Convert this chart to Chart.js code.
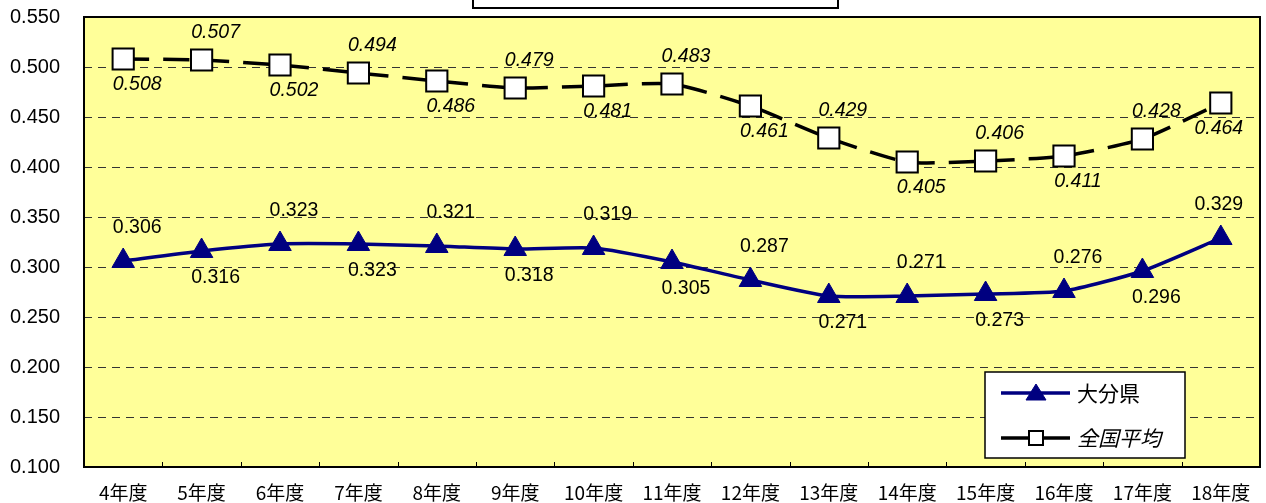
<!DOCTYPE html>
<html>
<head>
<meta charset="utf-8">
<script src="https://cdn.jsdelivr.net/npm/chart.js@4/dist/chart.umd.min.js"></script>
<style>
  html, body { margin: 0; padding: 0; background: #ffffff; }
  #wrap { width: 1266px; height: 503px; position: relative; }
</style>
</head>
<body>
<div id="wrap"><canvas id="c" width="1266" height="503"></canvas></div>
<script>
// 年度別の推移
const categories = ['4年度','5年度','6年度','7年度','8年度','9年度','10年度','11年度','12年度','13年度','14年度','15年度','16年度','17年度','18年度'];
const oitaValues = [0.306,0.316,0.323,0.323,0.321,0.318,0.319,0.305,0.287,0.271,0.271,0.273,0.276,0.296,0.329];
const nationalValues = [0.508,0.507,0.502,0.494,0.486,0.479,0.481,0.483,0.461,0.429,0.405,0.406,0.411,0.428,0.464];
const seriesNames = ['大分県','全国平均'];
const yTicks = [0.100,0.150,0.200,0.250,0.300,0.350,0.400,0.450,0.500,0.550];

const NUM_FONT = '"Liberation Sans", Arial, sans-serif';
const JP_FONT = '"Noto Sans CJK JP", sans-serif';

// value labels beside each point, alternating above / below
const valueLabels = {
  id: 'valueLabels',
  afterDatasetsDraw(chart) {
    const ctx = chart.ctx;
    ctx.save();
    ctx.fillStyle = '#000';
    ctx.textAlign = 'center';
    ctx.textBaseline = 'middle';
    chart.data.datasets.forEach((ds, di) => {
      const meta = chart.getDatasetMeta(di);
      ctx.font = (ds.labelItalic ? 'italic ' : '') + '19.5px ' + NUM_FONT;
      const last = meta.data.length - 1;
      meta.data.forEach((pt, i) => {
        const above = (i % 2 === 0) === ds.firstAbove;
        const dy = above ? ds.labelUp : ds.labelDown;
        const dx = i === last ? -2 : 14;
        ctx.fillText(ds.data[i].toFixed(3), pt.x + dx, pt.y + dy);
      });
    });
    ctx.restore();
  }
};

// frame, inner tick marks, title box and legend box
const decor = {
  id: 'decor',
  beforeDraw(chart) {
    const { ctx, chartArea: a } = chart;
    ctx.save();
    ctx.fillStyle = '#FFFF99';
    ctx.fillRect(a.left, a.top, a.right - a.left, a.bottom - a.top);
    ctx.restore();
  },
  afterDraw(chart) {
    const { ctx, chartArea: a } = chart;
    const xs = chart.scales.x;
    ctx.save();
    // plot frame
    ctx.strokeStyle = '#000';
    ctx.lineWidth = 2;
    ctx.strokeRect(a.left, a.top, a.right - a.left, a.bottom - a.top);
    // category boundary ticks along the bottom
    ctx.lineWidth = 1;
    ctx.beginPath();
    const n = categories.length;
    for (let i = 1; i < n; i++) {
      const x = Math.round((xs.getPixelForValue(i - 1) + xs.getPixelForValue(i)) / 2) + 0.5;
      ctx.moveTo(x, a.bottom);
      ctx.lineTo(x, a.bottom - 5);
    }
    ctx.stroke();
    // title frame at the top
    ctx.fillStyle = '#fff';
    ctx.fillRect(473, -4, 365, 12);
    ctx.lineWidth = 2;
    ctx.strokeRect(473, -4, 365, 12);
    // legend box
    const lx = 985, ly = 372, lw = 200, lh = 86;
    ctx.fillStyle = '#fff';
    ctx.fillRect(lx, ly, lw, lh);
    ctx.lineWidth = 1.5;
    ctx.strokeStyle = '#000';
    ctx.strokeRect(lx, ly, lw, lh);
    const rows = [393, 438];
    chart.data.datasets.forEach((ds, di) => {
      const y = rows[di];
      ctx.strokeStyle = ds.borderColor;
      ctx.lineWidth = ds.borderWidth;
      ctx.setLineDash([]);
      ctx.beginPath();
      ctx.moveTo(1001, y);
      ctx.lineTo(1070, y);
      ctx.stroke();
      ctx.fillStyle = ds.pointBackgroundColor;
      ctx.strokeStyle = ds.pointBorderColor;
      ctx.lineWidth = ds.pointBorderWidth;
      ctx.beginPath();
      if (ds.pointStyle === 'rect') {
        ctx.rect(1036 - 7, y - 7, 14, 14);
      } else {
        ctx.moveTo(1036, y - 9);
        ctx.lineTo(1036 + 10, y + 7);
        ctx.lineTo(1036 - 10, y + 7);
        ctx.closePath();
      }
      ctx.fill();
      ctx.stroke();
      ctx.fillStyle = '#000';
      ctx.textAlign = 'left';
      ctx.textBaseline = 'middle';
      ctx.font = (ds.labelItalic ? 'italic ' : '') + '21px ' + JP_FONT;
      ctx.fillText(ds.label, 1077, y);
    });
    ctx.restore();
  }
};

new Chart(document.getElementById('c'), {
  type: 'line',
  data: {
    labels: categories,
    datasets: [
      {
        label: seriesNames[0],
        data: oitaValues,
        borderColor: '#000080',
        backgroundColor: '#000080',
        borderWidth: 3.5,
        tension: 0.2,
        pointStyle: 'triangle',
        pointRadius: 13,
        pointHoverRadius: 13,
        pointBackgroundColor: '#000080',
        pointBorderColor: '#000080',
        pointBorderWidth: 1,
        labelItalic: false,
        firstAbove: true,
        labelUp: -33,
        labelDown: 27,
        order: 1
      },
      {
        label: seriesNames[1],
        data: nationalValues,
        borderColor: '#000000',
        backgroundColor: '#ffffff',
        borderWidth: 3.5,
        borderDash: [26, 14],
        tension: 0.2,
        pointStyle: 'rect',
        pointRadius: 15,
        pointHoverRadius: 15,
        pointBackgroundColor: '#ffffff',
        pointBorderColor: '#000000',
        pointBorderWidth: 2,
        labelItalic: true,
        firstAbove: false,
        labelUp: -27,
        labelDown: 26,
        order: 0
      }
    ]
  },
  options: {
    responsive: false,
    animation: false,
    events: [],
    layout: { autoPadding: false, padding: { top: 17, right: 6, left: 0, bottom: 0 } },
    plugins: {
      legend: { display: false },
      title: { display: false },
      tooltip: { enabled: false }
    },
    scales: {
      x: {
        offset: true,
        border: { display: false },
        grid: { display: false },
        ticks: {
          color: '#000',
          font: { family: JP_FONT, size: 19 },
          padding: 6,
          maxRotation: 0,
          autoSkip: false
        },
        afterFit(s) {
          s.height = 36;
          s.paddingLeft = 0; s.paddingRight = 0;
        }
      },
      y: {
        min: 0.1,
        max: 0.55,
        border: { display: false, dash: [8, 6] },
        afterBuildTicks(s) { s.ticks = yTicks.map(v => ({ value: v })); },
        grid: {
          color(c) {
            const v = c.tick ? c.tick.value : null;
            return (v === 0.1 || v === 0.55) ? 'rgba(0,0,0,0)' : '#333333';
          },
          lineWidth: 1,
          drawTicks: false
        },
        ticks: {
          color: '#000',
          font: { family: NUM_FONT, size: 20 },
          padding: 24,
          callback: v => Number(v).toFixed(3)
        },
        afterFit(s) {
          s.width = 84;
          s.paddingTop = 0; s.paddingBottom = 0;
        }
      }
    }
  },
  plugins: [decor, valueLabels]
});
</script>
</body>
</html>
